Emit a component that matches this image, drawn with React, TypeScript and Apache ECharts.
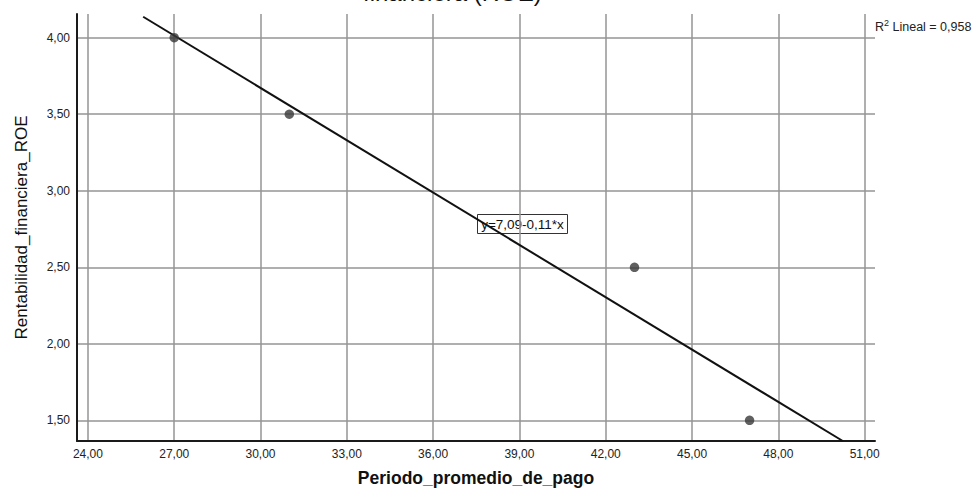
import React, { useEffect, useRef } from "react";
import * as echarts from "echarts";

const POINTS_X = [27, 31, 43, 47];
const POINTS_Y = [4.0, 3.5, 2.5, 1.5];
const FIT_LINE = [
  [25.92, 4.137],
  [50.24, 1.365],
];
const X_RANGE = [23.62, 51.36];
const Y_RANGE = [1.365, 4.155];
const X_STEP = 3;
const Y_STEP = 0.5;
const EQUATION = "y=7,09-0,11*x";
const R2_TEXT = " Lineal = 0,958";
const TITLE_TAIL = "financiera (ROE)";
const X_NAME = "Periodo_promedio_de_pago";
const Y_NAME = "Rentabilidad_financiera_ROE";

const fmt = (v: number) => v.toFixed(2).replace(".", ",");

export default function App() {
  const ref = useRef<HTMLDivElement>(null);
  useEffect(() => {
    if (!ref.current) return;
    const chart = echarts.init(ref.current, undefined, { renderer: "svg" });
    const font = "Arial, 'Liberation Sans', sans-serif";
    chart.setOption({
      animation: false,
      backgroundColor: "#ffffff",
      grid: {
        left: 77,
        right: 97,
        top: 14,
        bottom: 48,
        containLabel: false,
        outerBoundsMode: "none",
      },
      xAxis: {
        type: "value",
        min: X_RANGE[0],
        max: X_RANGE[1],
        minInterval: X_STEP,
        maxInterval: X_STEP,
        name: X_NAME,
        nameLocation: "middle",
        nameGap: 28,
        nameTextStyle: { fontFamily: font, fontSize: 17.5, fontWeight: "bold", color: "#111" },
        axisLine: { show: true, onZero: false, lineStyle: { color: "#1a1a1a", width: 2 } },
        axisTick: { show: false },
        axisLabel: {
          formatter: fmt,
          showMinLabel: false,
          showMaxLabel: false,
          fontFamily: font,
          fontSize: 12,
          color: "#222",
          margin: 7,
        },
        splitLine: {
          show: true,
          showMinLine: false,
          showMaxLine: false,
          lineStyle: { color: "#959595", width: 1.5 },
        },
      },
      yAxis: {
        type: "value",
        min: Y_RANGE[0],
        max: Y_RANGE[1],
        minInterval: Y_STEP,
        maxInterval: Y_STEP,
        name: Y_NAME,
        nameLocation: "middle",
        nameGap: 47,
        nameRotate: 90,
        nameTextStyle: { fontFamily: font, fontSize: 17, color: "#111" },
        axisLine: { show: true, onZero: false, lineStyle: { color: "#1a1a1a", width: 2 } },
        axisTick: { show: false },
        axisLabel: {
          formatter: fmt,
          showMinLabel: false,
          showMaxLabel: false,
          fontFamily: font,
          fontSize: 12,
          color: "#222",
          margin: 7,
        },
        splitLine: {
          show: true,
          showMinLine: false,
          showMaxLine: false,
          lineStyle: { color: "#959595", width: 1.5 },
        },
      },
      series: [
        {
          type: "line",
          data: FIT_LINE,
          symbol: "none",
          lineStyle: { color: "#111", width: 2 },
          z: 3,
          silent: true,
        },
        {
          type: "scatter",
          data: POINTS_X.map((x, i) => [x, POINTS_Y[i]]),
          symbol: "circle",
          symbolSize: 9.5,
          itemStyle: { color: "#383838" },
          z: 4,
        },
      ],
      graphic: [
        {
          type: "text",
          left: 363,
          top: -20,
          z: 10,
          style: { text: TITLE_TAIL, font: `24px ${font}`, fill: "#111" },
        },
        {
          type: "group",
          left: 477,
          top: 214,
          z: 10,
          children: [
            {
              type: "rect",
              shape: { x: 0, y: 0, width: 90, height: 19 },
              style: { fill: "#fff", stroke: "#333", lineWidth: 1 },
            },
            {
              type: "text",
              x: 45,
              y: 10,
              style: {
                text: EQUATION,
                font: `13.5px ${font}`,
                fill: "#111",
                align: "center",
                verticalAlign: "middle",
              },
            },
          ],
        },
        {
          type: "text",
          left: 875,
          top: 18,
          z: 10,
          style: {
            text: "{r|R}{s|2}{r|" + R2_TEXT + "}",
            rich: {
              r: { font: `12.5px ${font}`, fill: "#222", verticalAlign: "bottom" },
              s: { font: `9px ${font}`, fill: "#222", verticalAlign: "top", padding: [0, 0, 6, 0] },
            },
          },
        },
      ],
    });
    return () => chart.dispose();
  }, []);
  return (
    <div
      ref={ref}
      style={{ position: "absolute", left: 0, top: 0, width: 972, height: 489 }}
    />
  );
}
